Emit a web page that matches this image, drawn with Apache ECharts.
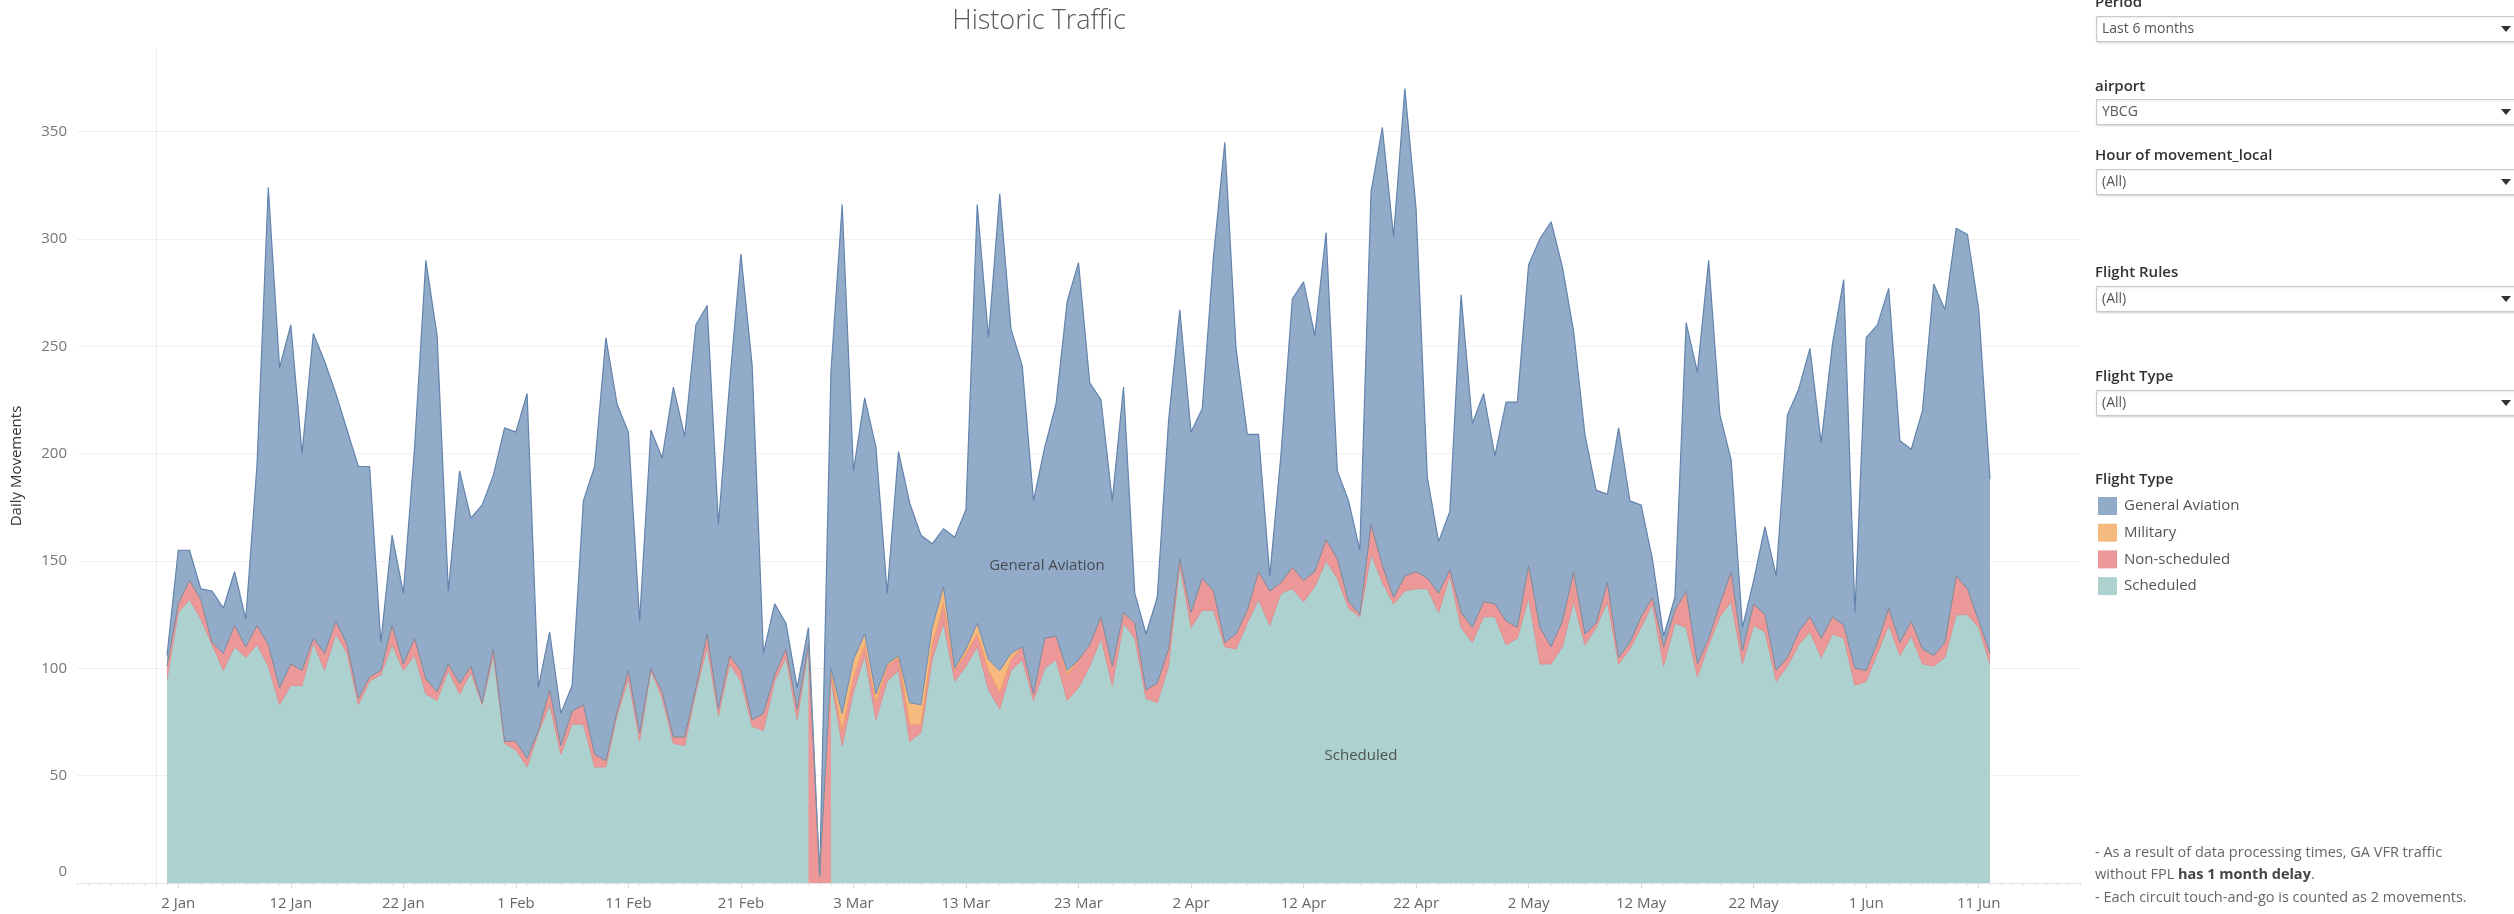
<!DOCTYPE html>
<html><head><meta charset="utf-8">
<script src="https://cdn.jsdelivr.net/npm/echarts@6/dist/echarts.min.js"></script>
<style>html,body{margin:0;padding:0;background:#fff;}#c{width:2514px;height:914px;}</style>
</head><body><div id="c"></div><script>
// Daily movements, 1 Jan .. 12 Jun (163 days)
const scheduled = [
95,126,132,123,111,99,110,105,111,101,
83,92,92,112,99,116,107,83,94,97,
111,99,106,88,85,99,88,98,83,106,
65,62,54,70,83,60,74,74,54,54,
78,95,66,99,86,65,64,89,110,78,
102,94,73,71,94,105,76,109,null,95,
64,89,106,76,94,99,66,70,104,121,
94,101,110,90,81,99,104,85,100,104,
85,91,101,114,92,121,114,86,84,101,
148,119,127,127,110,109,121,132,120,135,
137,131,138,150,142,128,124,153,140,130,
136,137,137,126,143,119,112,124,124,111,
114,133,102,102,110,131,111,119,131,102,
109,119,130,101,121,119,96,111,124,131,
102,120,117,94,101,111,117,105,116,114,
92,94,107,120,106,115,102,101,105,125,
125,119,102];
const nonScheduled = [
6,4,9,9,1,8,10,5,9,10,
8,10,7,2,8,6,4,3,2,2,
9,3,8,7,4,3,5,3,1,3,
1,4,4,1,7,4,6,9,6,3,
2,4,4,1,3,3,4,2,6,3,
4,5,3,8,3,4,5,2,3,3,
7,7,5,8,7,6,8,4,7,9,
5,6,6,9,8,5,6,3,14,11,
12,13,10,10,9,5,7,4,9,8,
3,7,15,9,2,7,6,13,16,5,
10,10,7,10,9,3,1,14,8,3,
7,8,5,9,3,7,7,7,6,11,
5,15,17,8,12,14,5,2,9,3,
3,5,3,9,6,17,6,3,6,14,
6,10,8,5,4,6,7,9,8,6,
8,5,5,8,6,7,7,5,7,18,
12,3,5];
const military = [
0,0,0,0,0,0,0,0,0,0,
0,0,0,0,0,0,0,0,0,0,
0,0,0,0,0,0,0,0,0,0,
0,0,0,0,0,0,0,0,0,0,
0,0,0,0,0,0,0,0,0,0,
0,0,0,0,0,0,0,0,0,2,
8,8,5,4,1,1,10,9,8,8,
1,2,5,5,10,3,0,0,0,0,
2,0,0,0,0,0,0,0,0,0,
0,0,0,0,0,0,0,0,0,0,
0,0,0,0,0,0,0,0,0,0,
0,0,0,0,0,0,0,0,0,0,
0,0,0,0,0,0,0,0,0,0,
0,0,0,0,0,0,0,0,0,0,
0,0,0,0,0,0,0,0,0,0,
0,0,0,0,0,0,0,0,0,0,
0,0,0];
const generalAviation = [
5,25,14,5,24,21,25,13,75,213,
149,158,101,142,136,106,100,108,98,13,
42,33,89,195,166,34,99,69,92,81,
146,144,170,20,27,15,12,95,134,197,
143,111,52,111,109,163,140,169,153,86,
127,194,165,28,33,12,10,8,0,138,
237,88,110,115,33,95,93,79,39,27,
61,65,195,150,222,151,131,90,89,108,
172,185,122,101,77,105,14,26,40,106,
116,84,79,156,233,133,82,64,7,60,
125,139,110,143,41,47,30,155,204,168,
227,169,47,24,27,148,95,97,69,102,
105,140,181,198,165,112,93,62,41,107,
66,52,18,5,6,125,136,176,88,52,
11,11,41,44,113,113,125,91,127,161,
26,155,148,149,94,80,111,173,155,162,
165,145,81];
const tickDays = [2,12,22,32,42,52,62,72,82,92,102,112,122,132,142,152,162];
const tickLabels = ['2 Jan','12 Jan','22 Jan','1 Feb','11 Feb','21 Feb','3 Mar','13 Mar','23 Mar','2 Apr','12 Apr','22 Apr','2 May','12 May','22 May','1 Jun','11 Jun'];
const yTicks = [0,50,100,150,200,250,300,350];
const filters = [
  ['Period','Last 6 months'],
  ['airport','YBCG'],
  ['Hour of movement_local','(All)'],
  ['Flight Rules','(All)'],
  ['Flight Type','(All)']
];
const legendItems = ['General Aviation','Military','Non-scheduled','Scheduled'];

// ---- build cumulative layers (days numbered from 1 = 1 Jan)
const days = scheduled.map((_, i) => i + 1);
const cSched = [], cNon = [], cMil = [], cTot = [];
days.forEach((d, i) => {
  const s = scheduled[i];
  const n = (s == null ? 0 : s) + nonScheduled[i];
  const m = n + military[i];
  const t = m + generalAviation[i];
  cSched.push([d, s == null ? null : s]);
  cNon.push([d, n]);
  cMil.push([d, m]);
  cTot.push([d, t]);
});

const FONT = '"Open Sans", "Noto Sans", "DejaVu Sans", sans-serif';
const COL = {ga:'#92ABC8', mil:'#F6BA7E', non:'#EC9899', sch:'#ADD1CE'};
const GRID = {left:77, right:434, top:50, bottom:31};

function areaSeries(name, data, fill, line) {
  return {
    name, type:'line', data, showSymbol:false, symbol:'none', silent:true,
    connectNulls:false,
    lineStyle: line ? {color:line.c, width:line.w} : {width:0, opacity:0},
    areaStyle:{color:fill, opacity:1}
  };
}
function lineOnly(name, data, color, w) {
  return {name, type:'line', data, showSymbol:false, symbol:'none', silent:true,
    lineStyle:{color, width:w}};
}

const graphics = [];
graphics.push({type:'text', x:1039, y:21, style:{text:'Historic Traffic', fill:'#5a5a5a', font:'300 27px ' + FONT, align:'center', verticalAlign:'middle', textAlign:'center', textVerticalAlign:'middle'}});
graphics.push({type:'text', x:17, y:466, rotation:Math.PI/2, style:{text:'Daily Movements', fill:'#333', font:'15px ' + FONT, align:'center', verticalAlign:'middle', textAlign:'center', textVerticalAlign:'middle'}});

// filter panel
const labelY = [3, 87, 156, 273, 377];
const boxY = [16, 99, 169, 286, 390];
filters.forEach((f, i) => {
  graphics.push({type:'text', x:2095, y:labelY[i], style:{text:f[0], fill:'#333', font:'600 15px ' + FONT, align:'left', verticalAlign:'middle', textAlign:'left', textVerticalAlign:'middle'}});
  graphics.push({type:'rect', shape:{x:2096.5, y:boxY[i] + 0.5, width:440, height:25}, style:{fill:'#fff', stroke:'#c9c9c9', lineWidth:1, shadowColor:'rgba(0,0,0,0.12)', shadowBlur:2, shadowOffsetY:1}});
  graphics.push({type:'text', x:2102, y:boxY[i] + 13.5, style:{text:f[1], fill:'#555', font:'14px ' + FONT, align:'left', verticalAlign:'middle', textAlign:'left', textVerticalAlign:'middle'}});
  graphics.push({type:'polygon', shape:{points:[[2501, boxY[i] + 10], [2511, boxY[i] + 10], [2506, boxY[i] + 16]]}, style:{fill:'#333'}});
});

// legend
graphics.push({type:'text', x:2095, y:480, style:{text:'Flight Type', fill:'#333', font:'600 15px ' + FONT, align:'left', verticalAlign:'middle', textAlign:'left', textVerticalAlign:'middle'}});
const legCols = [COL.ga, COL.mil, COL.non, COL.sch];
legendItems.forEach((t, i) => {
  const cy = 506 + i * 26.7;
  graphics.push({type:'rect', shape:{x:2098, y:cy - 9, width:19, height:18}, style:{fill:legCols[i]}});
  graphics.push({type:'text', x:2124, y:cy, style:{text:t, fill:'#555', font:'15px ' + FONT, align:'left', verticalAlign:'middle', textAlign:'left', textVerticalAlign:'middle'}});
});

// notes
const noteStyle = {fill:'#666', font:'14.5px ' + FONT, align:'left', verticalAlign:'middle', textAlign:'left', textVerticalAlign:'middle'};
graphics.push({type:'text', x:2095, y:853, style:Object.assign({text:'- As a result of data processing times, GA VFR traffic'}, noteStyle)});
graphics.push({type:'text', x:2095, y:875, style:Object.assign({text:'without FPL {b|has 1 month delay}.', rich:{b:{fill:'#444', fontWeight:'bold', fontSize:14.5, fontFamily:FONT}}}, noteStyle)});
graphics.push({type:'text', x:2095, y:898, style:Object.assign({text:'- Each circuit touch-and-go is counted as 2 movements.'}, noteStyle)});

const chart = echarts.init(document.getElementById('c'));
chart.setOption({
  animation:false,
  backgroundColor:'#fff',
  textStyle:{fontFamily:FONT},
  grid:GRID,
  xAxis:[{
    type:'value', min:-7, max:171,
    axisLine:{show:true, onZero:false, lineStyle:{color:'#e3e3e3', width:1}},
    axisTick:{show:true, customValues:tickDays, length:5, lineStyle:{color:'#cfcfcf'}},
    axisLabel:{customValues:tickDays, color:'#666', fontSize:15, fontFamily:FONT, margin:13,
      formatter:v => { const k = tickDays.indexOf(v); return k >= 0 ? tickLabels[k] : ''; }},
    splitLine:{show:false}
  },{
    type:'value', min:-7, max:171, interval:1, position:'bottom',
    axisLine:{show:false},
    axisTick:{show:true, length:3, lineStyle:{color:'#e2e2e2'}},
    axisLabel:{show:false}, splitLine:{show:false}
  }],
  yAxis:{
    type:'value', min:0, max:388, interval:50,
    axisLine:{show:true, lineStyle:{color:'#ececec'}},
    axisTick:{show:false},
    axisLabel:{color:'#777', fontSize:15, fontFamily:FONT, margin:10, showMaxLabel:false,
      formatter:v => v === 0 ? '{z|0}' : (yTicks.indexOf(v) >= 0 ? String(v) : ''),
      rich:{z:{color:'#777', fontSize:15, fontFamily:FONT, padding:[0,0,22,0]}}},
    splitLine:{show:true, showMaxLine:false, lineStyle:{color:'#f0f0f0', width:1}}
  },
  series:[
    areaSeries('General Aviation', cTot, COL.ga, {c:'#6283AE', w:1.2}),
    areaSeries('Military', cMil, COL.mil, null),
    areaSeries('Non-scheduled', cNon, COL.non, null),
    areaSeries('Scheduled', cSched, COL.sch, {c:'#E0898B', w:0.8}),
    lineOnly('Non-scheduled top', cNon, '#EE9E5C', 0.9),
    lineOnly('General Aviation base', cMil, '#6F8CB2', 1),
    {
      type:'scatter', symbol:'circle', symbolSize:2, silent:true, z:10,
      itemStyle:{color:'rgba(0,0,0,0)'},
      label:{show:true, position:'inside', color:'#333', fontSize:15, fontFamily:FONT, formatter:p => p.name},
      data:[{name:'General Aviation', value:[79.2, 148]}, {name:'Scheduled', value:[107.1, 59.5]}]
    }
  ],
  graphic:graphics
});
</script></body></html>
